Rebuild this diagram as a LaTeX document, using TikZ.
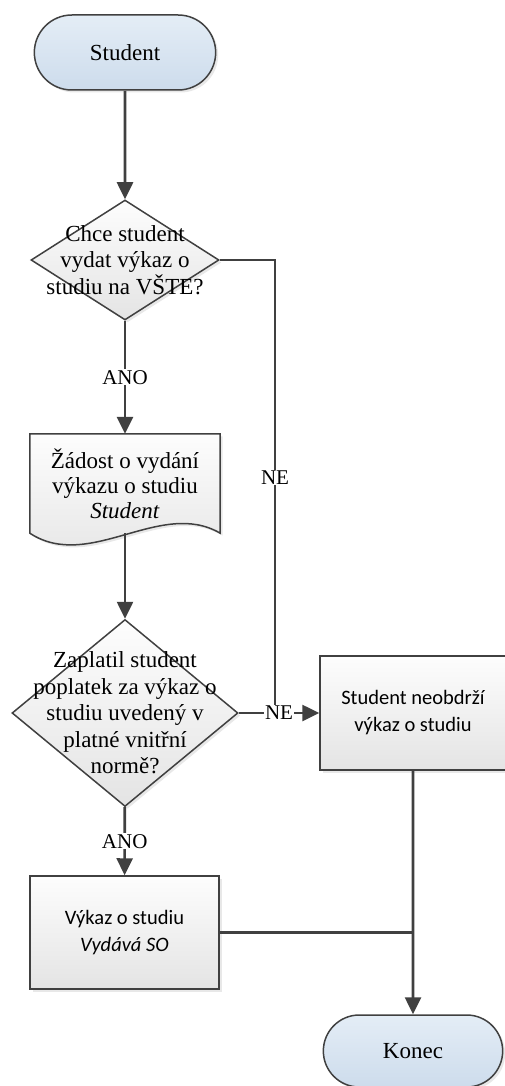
\documentclass[tikz,border=0pt]{standalone}
\usepackage{fontspec}
\setmainfont{Liberation Serif}
\setsansfont{Carlito}
\usetikzlibrary{
	arrows.meta,
	shapes.geometric,
	shapes.misc,
	shadows
}
\definecolor{linegray}{RGB}{64,64,64}
\definecolor{termtop}{RGB}{228,237,246}
\definecolor{termbot}{RGB}{205,220,236}
\definecolor{boxtop}{RGB}{253,253,253}
\definecolor{boxbot}{RGB}{228,228,228}
\pgfdeclarelayer{background}
\pgfsetlayers{background,main}

\begin{document}
\begin{tikzpicture}[x=1pt,y=-1pt,
    shad/.style={drop shadow={opacity=0.18,shadow xshift=2.5pt,shadow yshift=-2.5pt}},
    termnode/.style={rounded rectangle,draw=linegray,line width=1.5pt,top color=termtop,bottom color=termbot,
                     minimum width=188pt,minimum height=75pt,font=\fontsize{23}{27}\selectfont,shad},
    decnode/.style={diamond,draw=linegray,line width=1.5pt,top color=boxtop,bottom color=boxbot,inner sep=0pt,shad},
    dtext/.style={align=center,font=\fontsize{23}{26.5}\selectfont},
    procnode/.style={rectangle,draw=linegray,line width=1.5pt,top color=boxtop,bottom color=boxbot,
                     align=center,font=\sffamily\fontsize{20.5}{27}\selectfont,shad},
    docnode/.style={rectangle,minimum width=190pt,minimum height=99pt,align=center,font=\fontsize{23}{25}\selectfont},
    docshape/.style={draw=linegray,line width=1.5pt,top color=boxtop,bottom color=boxbot,shad},
    lbl/.style={fill=white,inner sep=1pt,font=\fontsize{21}{24}\selectfont},
    conn/.style={draw=linegray,line width=2.6pt},
    arr/.style={conn,-{Triangle[length=17pt,width=16pt]}}
]
    % Definitions
    \coordinate (ST) at (125,52.5);
    \coordinate (CS) at (125,260);
    \coordinate (ZV) at (125,483.5);
    \coordinate (ZP) at (125,713);
    \coordinate (SN) at (413,713);
    \coordinate (VS) at (124.5,932.5);
    \coordinate (KO) at (413,1051);
    \coordinate (NeJu) at (275,713);
    \useasboundingbox (0,0) rectangle (504,1086);
    % Nodes
    \node(Stud) at (ST) [termnode] {Student};
    \node(ChSt) at (CS) [decnode,minimum width=188pt,minimum height=120pt,
        label={[dtext]center:{Chce student\\vydat výkaz o\\studiu na VŠTE?}}] {};
    \node(ZaVy) at (ZV) [docnode] {Žádost o vydání\\výkazu o studiu\\\textit{Student}};
    \node(ZaPo) at (ZP) [decnode,minimum width=226pt,minimum height=187pt,
        label={[dtext]center:{Zaplatil student\\poplatek za výkaz o\\studiu uvedený v\\platné vnitřní\\normě?}}] {};
    \node(StNe) at (SN) [procnode,minimum width=186pt,minimum height=114pt] {Student neobdrží\\výkaz o studiu};
    \node(VySt) at (VS) [procnode,minimum width=189pt,minimum height=113pt] {Výkaz o studiu\\\textit{Vydává SO}};
    \node(Kone) at (KO) [termnode,minimum width=186pt,minimum height=72pt] {Konec};
    % Document shape
    \begin{pgfonlayer}{background}
    \path[docshape] (ZaVy.north west) -- (ZaVy.north east) -- (ZaVy.south east)
        .. controls +(-60,-35) and +(60,39) .. (ZaVy.south west) -- cycle;
    \end{pgfonlayer}
    % Arrows
    \draw[arr]  (Stud) -- (ChSt);
    \draw[arr]  (ChSt) -- node[lbl] {ANO} (ZaVy);
    \draw[arr]  (ZaVy) -- (ZaPo);
    \draw[conn] (ChSt.east) -| node[lbl,pos=0.74] {NE} (NeJu);
    \draw[arr]  (ZaPo) -- node[lbl] {NE} (StNe);
    \draw[arr]  (ZaPo) -- node[lbl] {ANO} (VySt);
    \draw[conn] (VySt.east) -- (VySt.east -| StNe.south);
    \draw[arr]  (StNe) -- (Kone);
\end{tikzpicture}
\end{document}
